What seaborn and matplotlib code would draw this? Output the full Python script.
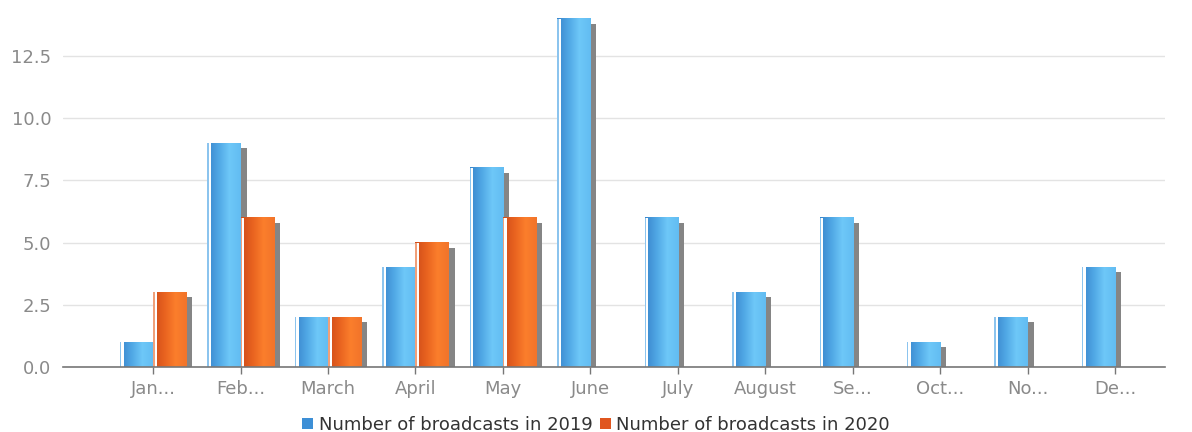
import numpy as np
import pandas as pd
import matplotlib
matplotlib.use("Agg")
import matplotlib.pyplot as plt
import seaborn as sns
from matplotlib.colors import LinearSegmentedColormap
from matplotlib.patches import Rectangle, Patch

months = ["Jan...", "Feb...", "March", "April", "May", "June", "July",
          "August", "Se...", "Oct...", "No...", "De..."]
series_2019 = [1, 9, 2, 4, 8, 14, 6, 3, 6, 1, 2, 4]
series_2020 = [3, 6, 2, 5, 6, 0, 0, 0, 0, 0, 0, 0]
series_names = ["Number of broadcasts in 2019", "Number of broadcasts in 2020"]

df = pd.DataFrame({
    "month": months * 2,
    "value": series_2019 + series_2020,
    "series": [series_names[0]] * len(months) + [series_names[1]] * len(months),
})

sns.set_theme(style="white")
plt.rcParams['font.family'] = ['DejaVu Sans']

fig = plt.figure(figsize=(11.92, 4.32), dpi=100)
ax = fig.add_axes([63 / 1192, 65 / 432, (1165 - 63) / 1192, (432 - 65) / 432])

base_cols = {series_names[0]: "#3d8fd6", series_names[1]: "#e0561f"}
sns.barplot(data=df, x="month", y="value", hue="series", order=months,
            hue_order=series_names, palette=base_cols, dodge=True,
            width=0.76, ax=ax, legend=False, saturation=1)

cm_blue = LinearSegmentedColormap.from_list("b", ["#3a86cc", "#4fa6e4", "#6ec8f8", "#62bcf2"])
cm_orng = LinearSegmentedColormap.from_list("o", ["#cf4c1a", "#e8621f", "#fb7e2c", "#f2742a"])
edge_light = {True: "#8cc4ee", False: "#f0a07a"}
grad = np.linspace(0, 1, 64).reshape(1, -1)

ylim = (0, 14.75)
xlim = (-1.03, 11.57)
px_x = (xlim[1] - xlim[0]) / (1165 - 63)
px_y = (ylim[1] - ylim[0]) / 367

patches = list(ax.patches)
for p in patches:
    h = p.get_height()
    x = p.get_x()
    w = p.get_width()
    if h <= 0:
        p.set_visible(False)
        continue
    fc = p.get_facecolor()
    is_blue = fc[2] > fc[0]
    cmap = cm_blue if is_blue else cm_orng
    sh = Rectangle((x + 6 * px_x, 0), w, h - 5 * px_y, facecolor="#858585",
                   edgecolor="none", zorder=1)
    ax.add_patch(sh)
    p.set_zorder(2)
    p.set_edgecolor("none")
    ax.imshow(grad, cmap=cmap, aspect="auto", extent=(x, x + w, 0, h),
              zorder=3, interpolation="bilinear")
    ax.add_patch(Rectangle((x, 0), 1.5 * px_x, h, facecolor=edge_light[is_blue],
                           edgecolor="none", zorder=4))
    ax.add_patch(Rectangle((x + 1.5 * px_x, 0), 2.3 * px_x, h, facecolor="white",
                           edgecolor="none", zorder=4))

ax.set_xlim(*xlim)
ax.set_ylim(*ylim)
ax.set_yticks([0, 2.5, 5, 7.5, 10, 12.5])
ax.set_yticklabels(["0.0", "2.5", "5.0", "7.5", "10.0", "12.5"])
ax.set_xticks(range(len(months)))
ax.set_xticklabels(months)
ax.set_xlabel("")
ax.set_ylabel("")

ax.grid(axis="y", color="#e3e3e3", linewidth=1)
ax.set_axisbelow(True)
for s in ["top", "right", "left"]:
    ax.spines[s].set_visible(False)
ax.spines["bottom"].set_color("#777777")
ax.spines["bottom"].set_linewidth(1.2)
ax.spines["bottom"].set_zorder(6)
ax.tick_params(axis="x", colors="#8a8a8a", labelsize=13, length=5, width=1,
               direction="out", bottom=True, pad=4)
ax.tick_params(axis="x", color="#777777")
ax.tick_params(axis="y", colors="#8a8a8a", labelsize=13, length=0, pad=8.5)

handles = [Patch(facecolor=base_cols[n], edgecolor="none", label=n) for n in series_names]
fig.legend(handles=handles, loc="lower center", bbox_to_anchor=(0.5, -0.042), ncol=2,
           frameon=False, fontsize=13, handlelength=0.6, handleheight=0.6,
           handletextpad=0.3, columnspacing=0.4, labelcolor="#333333")

fig.savefig("out.png", dpi=100)
